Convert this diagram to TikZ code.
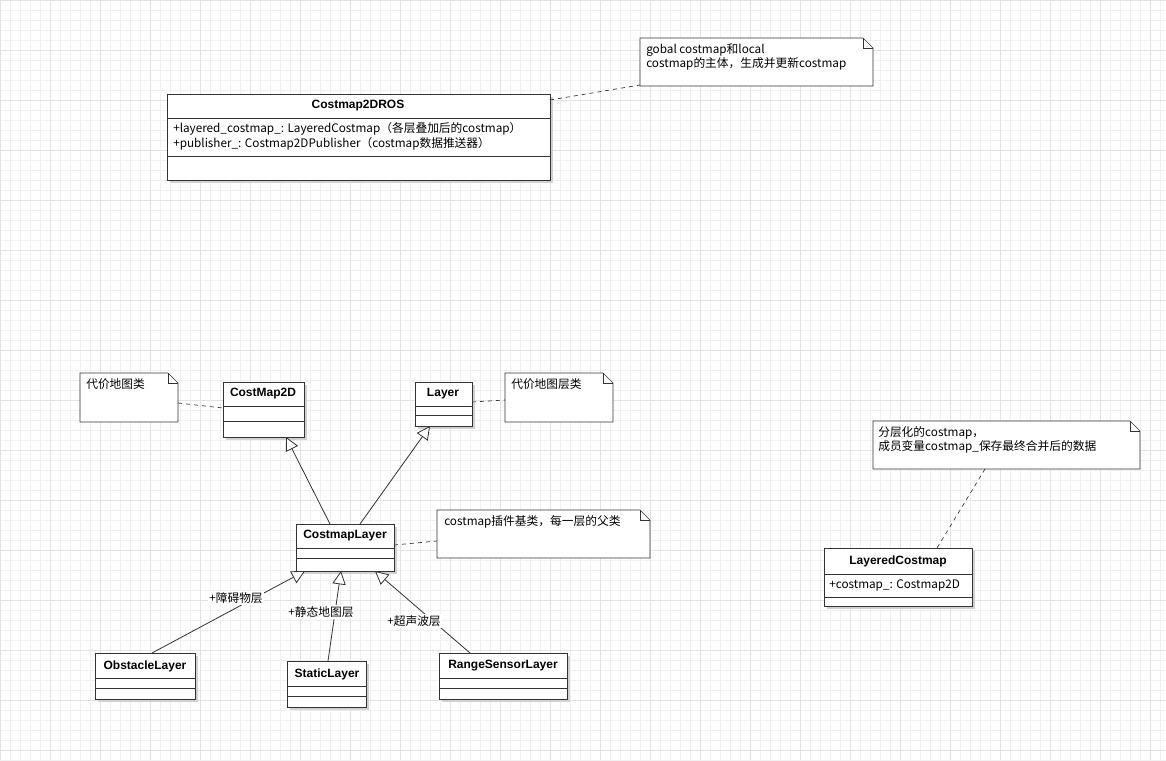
\documentclass[tikz,border=0pt]{standalone}
\usepackage{fontspec}
\setmainfont{Noto Sans CJK SC}
\newfontfamily\lb{Liberation Sans}
\usetikzlibrary{arrows.meta}
\tikzset{
  x=0.75pt,y=-0.75pt,
  cls/.style={draw=black!80,line width=0.6pt,fill=white},
  shad/.style={fill=black!18,draw=none},
  ttl/.style={font=\lb\bfseries\fontsize{9}{11}\selectfont,anchor=center,inner sep=0},
  txt/.style={font=\fontsize{8.8}{11}\selectfont,anchor=west,inner sep=0,align=left},
  notel/.style={draw=black!80,dashed,line width=0.5pt},
  inh/.style={draw=black!80,line width=0.6pt,-{Triangle[open,length=10pt,width=10pt,fill=white]}},
  lbl/.style={font=\fontsize{8.8}{11}\selectfont,inner sep=1pt}
}
\newcommand{\umlbox}[6]{%
  \fill[shad] (#2+3,#3+3) rectangle (#4+3,#5+3);
  \draw[cls] (#2,#3) rectangle (#4,#5);
  \coordinate (#1-nw) at (#2,#3);
}
\newcommand{\notebox}[5]{%
  \draw[draw=black!80,fill=white,line width=0.5pt] (#2,#3) -- (#4-10,#3) -- (#4,#3+10) -- (#4,#5) -- (#2,#5) -- cycle;
  \draw[draw=black!80,line width=0.5pt] (#4-10,#3) -- (#4-10,#3+10) -- (#4,#3+10);
  \coordinate (#1) at (#2,#3);
}
\begin{document}
\begin{tikzpicture}
\useasboundingbox (0,0) rectangle (1166,760);
\fill[white] (0,0) rectangle (1166,760);
\foreach \i in {0,10,...,1160} {\draw[black!6,line width=0.3pt] (\i,0) -- (\i,760);}
\foreach \i in {0,10,...,760} {\draw[black!6,line width=0.3pt] (0,\i) -- (1166,\i);}
\foreach \i in {0,50,...,1150} {\draw[black!11,line width=0.4pt] (\i,0) -- (\i,760);}
\foreach \i in {0,50,...,750} {\draw[black!11,line width=0.4pt] (0,\i) -- (1166,\i);}

% Costmap2DROS
\umlbox{ros}{167}{94}{550}{180}{}
\draw[black!80] (167,118) -- (550,118) (167,156) -- (550,156);
\node[ttl] (ros) at (358,106) {Costmap2DROS};
\node[txt] (rosa) at (173,129) {+layered\_costmap\_: LayeredCostmap（各层叠加后的costmap）};
\node[txt] (rosb) at (173,144) {+publisher\_: Costmap2DPublisher（costmap数据推送器）};
\coordinate (rosr) at (550,100);

\notebox{n1}{640}{38}{873}{86}
\node[txt,anchor=north west] (n1t) at (646,43) {gobal costmap和local\\costmap的主体，生成并更新costmap};
\coordinate (n1l) at (640,85);
\draw[notel] (rosr) -- (n1l);

% CostMap2D
\umlbox{cm}{223}{382}{304}{437}{}
\draw[black!80] (223,406) -- (304,406) (223,421) -- (304,421);
\node[ttl] (cm) at (263,394) {CostMap2D};
\coordinate (cmb) at (286,437);
\coordinate (cml) at (223,408);

\notebox{n2}{80}{373}{178}{422}
\node[txt,anchor=north west] (n2t) at (86,378) {代价地图类};
\coordinate (n2r) at (178,403);
\draw[notel] (n2r) -- (cml);

% Layer
\umlbox{ly}{415}{382}{472}{426}{}
\draw[black!80] (415,406) -- (472,406) (415,415) -- (472,415);
\node[ttl] (ly) at (443,394) {Layer};
\coordinate (lyb) at (430,426);
\coordinate (lyr) at (472,402);

\notebox{n3}{505}{373}{613}{422}
\node[txt,anchor=north west] (n3t) at (511,378) {代价地图层类};
\coordinate (n3l) at (505,400);
\draw[notel] (lyr) -- (n3l);

% CostmapLayer
\umlbox{cl}{296}{524}{394}{571}{}
\draw[black!80] (296,548) -- (394,548) (296,558) -- (394,558);
\node[ttl] (cl) at (345,536) {CostmapLayer};
\coordinate (clt1) at (330,524);
\coordinate (clt2) at (360,524);
\coordinate (clb1) at (305,571);
\coordinate (clb2) at (341,571);
\coordinate (clb3) at (375,571);
\coordinate (clr) at (394,545);

\notebox{n4}{437}{510}{650}{558}
\node[txt,anchor=north west] (n4t) at (444,515) {costmap插件基类，每一层的父类};
\coordinate (n4l) at (437,541);
\draw[notel] (clr) -- (n4l);

\draw[inh] (clt1) -- (cmb);
\draw[inh] (clt2) -- (lyb);

% subclasses
\umlbox{ob}{95}{653}{195}{699}{}
\draw[black!80] (95,678) -- (195,678) (95,688) -- (195,688);
\node[ttl] (ob) at (145,666) {ObstacleLayer};
\coordinate (obt) at (152,653);

\umlbox{st}{287}{661}{366}{707}{}
\draw[black!80] (287,686) -- (366,686) (287,696) -- (366,696);
\node[ttl] (st) at (327,674) {StaticLayer};
\coordinate (stt) at (328,661);

\umlbox{rs}{439}{653}{567}{699}{}
\draw[black!80] (439,678) -- (567,678) (439,688) -- (567,688);
\node[ttl] (rs) at (503,666) {RangeSensorLayer};
\coordinate (rst) at (470,653);

\draw[inh] (obt) -- (clb1);
\draw[inh] (stt) -- (clb2);
\draw[inh] (rst) -- (clb3);
\node[lbl,fill=white] (l1) at (236,598) {+障碍物层};
\node[lbl,fill=white] (l2) at (321,612) {+静态地图层};
\node[lbl,fill=white] (l3) at (414,621) {+超声波层};

% LayeredCostmap
\notebox{n5}{873}{421}{1140}{469}
\node[txt,anchor=north west] (n5t) at (878,426) {分层化的costmap，\\成员变量costmap\_保存最终合并后的数据};
\coordinate (n5b) at (985,469);

\umlbox{lc}{824}{548}{972}{606}{}
\draw[black!80] (824,574) -- (972,574) (824,597) -- (972,597);
\node[ttl] (lc) at (898,561) {LayeredCostmap};
\node[txt] (lca) at (829,585) {+costmap\_: Costmap2D};
\coordinate (lct) at (937,548);
\draw[notel] (n5b) -- (lct);
\end{tikzpicture}
\end{document}
